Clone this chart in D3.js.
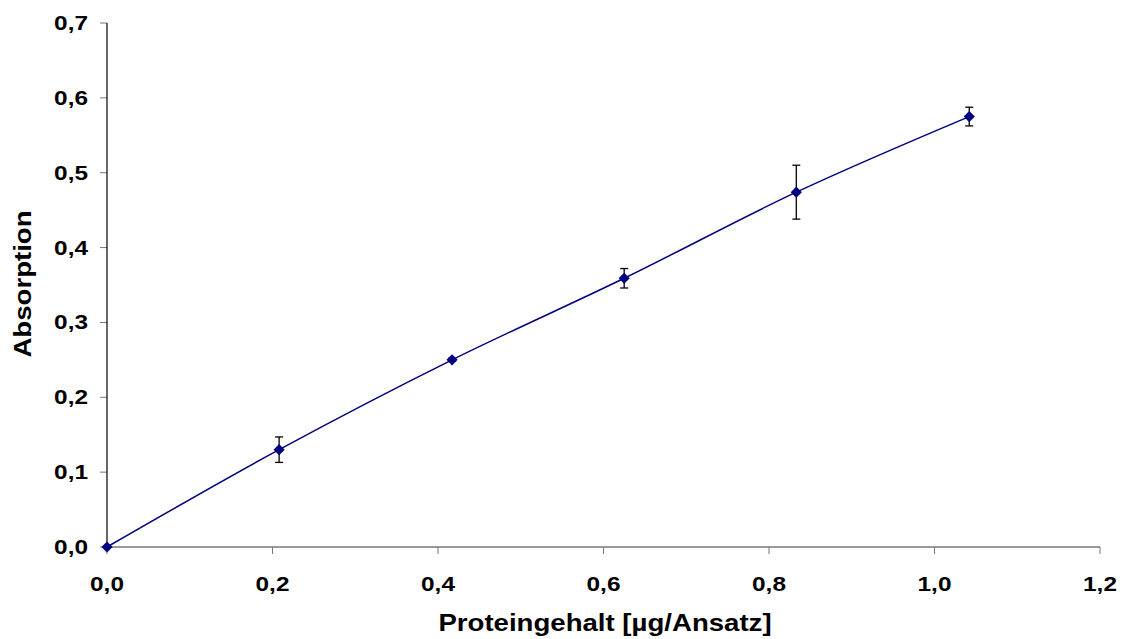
<!DOCTYPE html>
<html>
<head>
<meta charset="utf-8">
<script src="https://cdn.jsdelivr.net/npm/d3@7"></script>
<style>
html,body{margin:0;padding:0;background:#fff;}
svg{display:block;}
text{font-family:"Liberation Sans",Arial,sans-serif;font-weight:bold;fill:#000;}
</style>
</head>
<body>
<svg id="chart" width="1122" height="639"></svg>
<script>
// Data
const protein = [0, 0.208, 0.417, 0.625, 0.833, 1.042];
const absorption = [0, 0.130, 0.250, 0.359, 0.474, 0.575];
const errors = [0, 0.017, 0.002, 0.013, 0.036, 0.0125];
const xTicks = [0, 0.2, 0.4, 0.6, 0.8, 1.0, 1.2];
const yTicks = [0, 0.1, 0.2, 0.3, 0.4, 0.5, 0.6, 0.7];
const xTitle = "Proteingehalt [µg/Ansatz]";
const yTitle = "Absorption";

const svg = d3.select("#chart");
const x = d3.scaleLinear().domain([0, 1.2]).range([107, 1100]);
const y = d3.scaleLinear().domain([0, 0.7]).range([547, 23]);
const fmt = v => d3.format(".1f")(v).replace(".", ",");

const tickScale = 1.22, titleScale = 1.2;

// X axis
const gx = svg.append("g");
gx.append("line").attr("x1", x(0)).attr("x2", x(1.2)).attr("y1", y(0)).attr("y2", y(0))
  .attr("stroke", "#777").attr("stroke-width", 1.3);
gx.selectAll("line.t").data(xTicks).join("line").attr("class", "t")
  .attr("x1", d => x(d)).attr("x2", d => x(d)).attr("y1", y(0)).attr("y2", y(0) + 7)
  .attr("stroke", "#777").attr("stroke-width", 1);
gx.selectAll("text").data(xTicks).join("text")
  .attr("transform", d => `translate(${x(d)},591) scale(${tickScale},1)`)
  .attr("text-anchor", "middle").style("font-size", "20px").text(fmt);

// Y axis
const gy = svg.append("g");
gy.selectAll("line.t").data(yTicks).join("line").attr("class", "t")
  .attr("x1", x(0) - 7).attr("x2", x(0)).attr("y1", d => y(d)).attr("y2", d => y(d))
  .attr("stroke", "#777").attr("stroke-width", 1);
gy.append("line").attr("x1", x(0)).attr("x2", x(0)).attr("y1", y(0.7)).attr("y2", y(0))
  .attr("stroke", "#000").attr("stroke-width", 1.2);
gy.selectAll("text").data(yTicks).join("text")
  .attr("transform", d => `translate(88,${y(d)}) scale(${tickScale},1)`)
  .attr("text-anchor", "end").attr("dy", "0.35em").style("font-size", "20px").text(fmt);

// Titles
svg.append("text").attr("transform", `translate(605,631) scale(${titleScale},1)`)
  .attr("text-anchor", "middle").style("font-size", "23px").text(xTitle);
svg.append("text").attr("transform", `translate(31,284) rotate(-90) scale(${titleScale},1)`)
  .attr("text-anchor", "middle").style("font-size", "23px").text(yTitle);

// Line
const pts = protein.map((p, i) => [p, absorption[i], errors[i]]);
const line = d3.line().x(d => x(d[0])).y(d => y(d[1])).curve(d3.curveCatmullRom.alpha(0));
svg.append("path").datum(pts).attr("d", line).attr("fill", "none")
  .attr("stroke", "#000080").attr("stroke-width", 1.5);

// Error bars
const eb = svg.append("g").attr("stroke", "#000").attr("stroke-width", 1.3);
pts.filter(d => d[2] > 0).forEach(d => {
  const cx = x(d[0]), yt = y(d[1] + d[2]), yb = y(d[1] - d[2]);
  eb.append("line").attr("x1", cx).attr("x2", cx).attr("y1", yt).attr("y2", yb);
  eb.append("line").attr("x1", cx - 4).attr("x2", cx + 4).attr("y1", yt).attr("y2", yt);
  eb.append("line").attr("x1", cx - 4).attr("x2", cx + 4).attr("y1", yb).attr("y2", yb);
});

// Markers
svg.append("g").selectAll("path").data(pts).join("path")
  .attr("d", d3.symbol().type(d3.symbolDiamond2).size(80))
  .attr("transform", d => `translate(${x(d[0])},${y(d[1])})`)
  .attr("fill", "#000080");
</script>
</body>
</html>
